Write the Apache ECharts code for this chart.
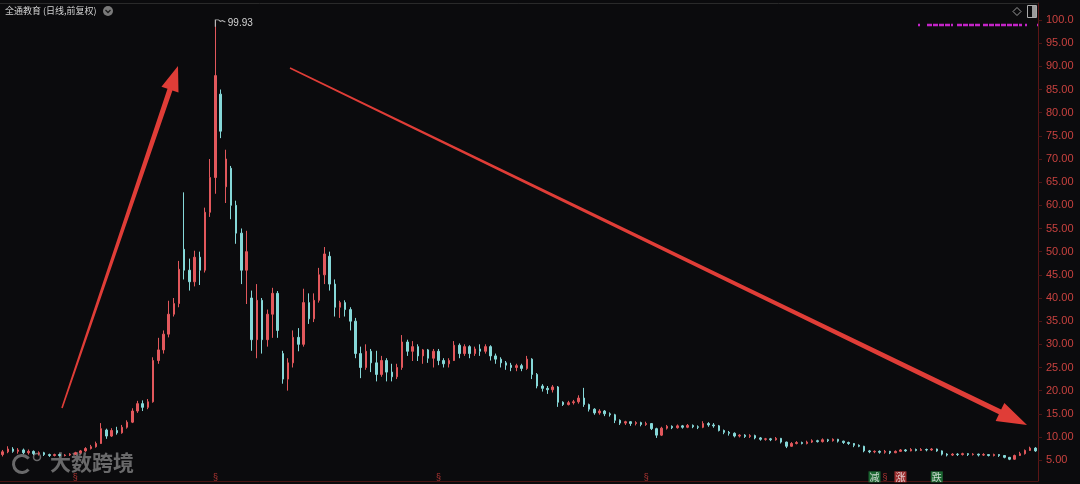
<!DOCTYPE html>
<html><head><meta charset="utf-8">
<script src="https://cdn.jsdelivr.net/npm/echarts@6/dist/echarts.min.js"></script>
<style>html,body{margin:0;padding:0;background:#0b0b0d;}#c{width:1080px;height:484px;}</style>
</head><body><div id="c"></div>
<script>
const opens = [
6.2,6.8,7.4,6.9,7.2,6.6,6.9,6.4,6.6,6.2,
6.0,6.2,6.0,6.1,6.3,6.6,7.0,7.5,7.9,8.6,
11.5,10.2,11.4,10.9,12.1,13.2,15.6,17.2,16.4,17.6,
26.5,28.8,32.2,36.5,38.8,50.5,46.0,43.5,48.8,46.0,
58.5,66.0,84.0,64.0,68.0,60.0,54.0,46.0,40.0,31.0,
39.5,31.0,36.5,41.0,28.0,22.5,26.0,31.5,30.0,39.0,
35.5,39.5,45.0,49.0,43.0,38.0,39.0,37.5,35.0,28.0,
25.0,28.5,26.0,23.5,26.5,24.0,23.0,25.0,30.5,28.5,
29.5,27.5,28.8,27.0,28.5,26.5,25.8,26.5,29.8,28.0,
29.5,28.0,29.0,28.5,29.5,27.5,26.8,26.0,25.5,25.0,
25.4,24.8,26.8,23.5,21.0,20.5,20.2,20.8,17.5,17.0,
17.4,17.6,18.4,17.0,16.0,15.2,15.6,15.0,14.8,13.6,
13.0,13.3,12.9,13.1,12.7,12.9,11.8,10.4,11.9,12.3,
12.0,12.4,12.1,12.5,12.2,12.1,12.9,12.6,12.4,11.4,
11.0,10.8,10.2,10.4,10.1,10.3,9.8,9.5,9.6,9.4,
9.7,8.9,8.0,8.6,8.8,8.6,8.9,9.2,9.0,9.4,
9.2,9.5,9.1,8.8,8.6,8.2,8.0,7.0,6.8,6.9,
6.7,6.9,6.6,6.9,7.2,7.0,7.3,7.1,7.3,7.2,
7.4,7.0,6.3,6.1,6.3,6.2,6.4,6.2,6.3,6.1,
6.2,6.0,6.2,6.0,5.6,5.2,6.0,6.4,7.1,7.6];
const closes = [
6.8,7.4,6.9,7.2,6.6,6.9,6.4,6.6,6.2,6.0,
6.2,6.0,6.1,6.3,6.6,7.0,7.5,7.9,8.6,11.8,
10.2,11.4,10.9,12.1,13.2,15.6,17.2,16.4,17.6,26.5,
28.8,32.2,36.5,38.8,46.2,46.0,43.5,48.8,46.0,58.5,
66.0,88.0,76.0,70.0,60.0,54.0,46.0,50.0,31.0,39.5,
31.0,36.5,41.0,33.0,22.5,26.0,31.5,30.0,39.0,35.5,
39.5,45.0,49.5,43.0,38.0,39.0,37.5,35.0,28.0,25.0,
28.5,26.0,23.5,26.5,24.0,23.0,25.0,30.5,28.5,29.5,
27.5,28.8,27.0,28.5,26.5,25.8,26.5,29.8,28.0,29.5,
28.0,29.0,28.5,29.5,27.5,26.8,26.0,25.5,25.0,25.4,
24.8,26.8,23.5,21.0,20.5,20.2,20.8,17.5,17.0,17.4,
17.6,18.4,17.0,16.0,15.2,15.6,15.0,14.8,13.6,13.0,
13.3,12.9,13.1,12.7,12.9,11.8,10.4,11.9,12.3,12.0,
12.4,12.1,12.5,12.2,12.1,12.9,12.6,12.4,11.4,11.0,
10.8,10.2,10.4,10.1,10.3,9.8,9.5,9.6,9.4,9.7,
8.9,8.0,8.6,8.8,8.6,8.9,9.2,9.0,9.4,9.2,
9.5,9.1,8.8,8.6,8.2,8.0,7.0,6.8,6.9,6.7,
6.9,6.6,6.9,7.2,7.0,7.3,7.1,7.3,7.2,7.4,
7.0,6.3,6.1,6.3,6.2,6.4,6.2,6.3,6.1,6.2,
6.0,6.2,6.0,5.6,5.2,6.0,6.4,7.1,7.6,7.0];
const lows = [
5.8,6.5,6.6,6.4,6.3,6.2,6.1,6.0,5.9,5.7,
5.8,5.8,5.8,5.9,6.1,6.4,6.8,7.3,7.7,8.5,
9.6,10.0,10.5,10.7,11.8,13.0,15.2,15.6,16.0,17.4,
25.8,28.0,31.5,36.0,38.0,44.0,41.6,42.5,42.8,45.5,
57.5,62.5,74.5,60.5,57.0,51.7,43.0,38.7,28.6,27.0,
28.0,29.5,31.4,31.4,21.5,20.0,25.0,28.5,29.5,34.4,
34.8,39.0,43.0,41.6,36.0,35.7,36.0,33.0,27.0,22.7,
24.5,24.0,22.0,23.0,22.0,22.0,22.5,24.5,27.5,26.4,
26.4,25.8,26.0,25.0,25.5,25.0,25.0,26.4,27.0,27.5,
27.0,27.5,27.5,28.0,26.5,25.8,25.0,24.5,24.2,24.2,
24.2,24.5,22.5,20.5,19.8,19.3,19.6,16.5,16.7,16.8,
17.0,17.2,16.5,15.5,14.8,14.8,14.5,14.4,13.0,12.6,
12.6,12.4,12.5,12.3,12.4,11.5,9.8,10.2,11.6,11.7,
11.8,11.8,11.9,11.9,11.7,11.9,12.2,12.0,11.2,10.6,
10.3,9.9,9.9,9.8,9.8,9.5,9.2,9.2,9.1,9.2,
8.6,7.6,7.9,8.4,8.4,8.4,8.7,8.8,8.8,8.9,
9.0,8.8,8.5,8.3,7.8,7.8,6.7,6.5,6.5,6.4,
6.4,6.3,6.5,6.8,6.8,6.9,6.9,7.0,6.9,7.0,
6.8,6.0,5.8,5.9,5.9,6.0,5.9,6.0,5.8,5.9,
5.8,5.8,5.7,5.4,5.0,5.1,5.9,6.2,7.0,6.8];
const highs = [
7.2,8.0,7.8,7.6,7.5,7.3,7.1,6.9,6.8,6.4,
6.4,6.4,6.3,6.5,6.8,7.2,7.8,8.3,9.0,13.0,
11.8,11.9,12.2,12.6,13.6,16.2,17.8,17.9,18.2,27.2,
31.4,33.0,39.4,40.0,48.0,62.8,48.5,50.2,50.0,59.5,
70.0,99.93,85.0,72.0,68.5,61.0,55.0,54.5,41.6,43.0,
40.0,37.5,42.2,41.5,28.6,27.0,33.0,33.5,42.0,41.0,
41.0,46.5,51.0,50.0,44.0,39.4,39.5,38.0,35.7,29.5,
30.0,29.0,28.6,27.5,27.0,25.8,25.8,32.0,31.0,30.7,
30.0,29.0,29.0,29.0,29.0,27.0,27.0,30.7,30.2,30.0,
29.8,29.5,30.0,30.0,29.8,28.0,27.2,26.4,26.0,25.8,
25.8,27.5,27.0,23.8,21.4,21.0,21.2,21.0,17.7,17.8,
18.0,19.0,20.6,17.2,16.2,16.0,15.8,15.3,15.0,13.8,
13.5,13.4,13.4,13.3,13.3,13.0,12.0,12.2,12.6,12.5,
12.7,12.6,12.8,12.7,12.5,13.4,13.2,13.0,12.6,11.6,
11.3,11.0,10.6,10.6,10.6,10.5,10.0,9.8,9.8,10.0,
9.8,9.0,8.9,9.1,9.0,9.2,9.5,9.4,9.7,9.6,
9.7,9.6,9.2,9.0,8.7,8.4,8.1,7.2,7.1,7.1,
7.2,7.0,7.1,7.4,7.4,7.6,7.5,7.6,7.5,7.6,
7.5,7.1,6.5,6.5,6.5,6.6,6.5,6.5,6.4,6.5,
6.3,6.4,6.3,6.1,5.7,6.2,6.8,7.3,7.9,7.8];
const days = opens.map((_, i) => 'D' + (i + 1));
const yTicks = [5,10,15,20,25,30,35,40,45,50,55,60,65,70,75,80,85,90,95,100];
const eventDays = [14, 41, 84, 124, 170];
const signalDays = [168, 173, 180];
const signalText = ['减', '涨', '跌'];
const titleText = '全通教育 (日线,前复权)';

const candleData = opens.map((o, i) => [o, closes[i], lows[i], highs[i]]);
let peakIdx = 0;
highs.forEach((h, i) => { if (h > highs[peakIdx]) peakIdx = i; });

function arrowPts(x1, y1, x2, y2, headLen, headHalf, tailHalf, shaftHalf) {
  const dx = x2 - x1, dy = y2 - y1, L = Math.hypot(dx, dy);
  const ux = dx / L, uy = dy / L, px = -uy, py = ux;
  const bx = x2 - ux * headLen, by = y2 - uy * headLen;
  return [
    [x1 + px * tailHalf, y1 + py * tailHalf],
    [bx + px * shaftHalf, by + py * shaftHalf],
    [bx + px * headHalf, by + py * headHalf],
    [x2, y2],
    [bx - px * headHalf, by - py * headHalf],
    [bx - px * shaftHalf, by - py * shaftHalf],
    [x1 - px * tailHalf, y1 - py * tailHalf]
  ];
}
const arrowColor = 'rgba(236,64,58,0.95)';
const purpleSegs = [[918,920],[927,953],[957,980],[983,1022],[1025,1027],[1037,1039]];

const chart = echarts.init(document.getElementById('c'));
chart.setOption({
  backgroundColor: '#0b0b0d',
  animation: false,
  grid: { left: 0, right: 42, top: 3, bottom: 3 },
  xAxis: [
    { type: 'category', data: days, boundaryGap: true,
      axisLine: { show: true, lineStyle: { color: '#4a1212' } },
      axisTick: { show: false }, axisLabel: { show: false }, splitLine: { show: false } },
    { type: 'category', data: days, position: 'top',
      axisLine: { show: true, lineStyle: { color: '#2a2a2a' } },
      axisTick: { show: false }, axisLabel: { show: false }, splitLine: { show: false } }
  ],
  yAxis: {
    type: 'value', position: 'right', min: 0.5, max: 103.67, scale: true,
    axisLine: { show: true, lineStyle: { color: '#5c1616' } },
    axisTick: { show: true, length: 4, lineStyle: { color: '#4a1414' }, customValues: yTicks },
    axisLabel: { customValues: yTicks, color: '#c8423f', fontSize: 11, margin: 8,
      fontFamily: 'Liberation Sans, Arial, sans-serif',
      formatter: v => v === 100 ? '100.0' : v.toFixed(2) },
    splitLine: { show: false }
  },
  series: [
    { type: 'candlestick', data: candleData, barWidth: 2,
      itemStyle: { color: '#e2585c', color0: '#86d8d8', borderColor: '#e2585c', borderColor0: '#86d8d8', borderWidth: 1 },
      markPoint: {
        symbol: 'path://M0,9 L0,0 L3,0 L5,2 L7,1 L10,3',
        symbolSize: [10, 7], symbolOffset: [5, 3],
        itemStyle: { color: 'rgba(0,0,0,0)', borderColor: '#bbbbbb', borderWidth: 1 },
        label: { show: true, position: [13, -1], color: '#d4d4d4', fontSize: 10,
          fontFamily: 'Liberation Sans, Arial, sans-serif',
          formatter: p => Number(p.value).toFixed(2) },
        data: [{ coord: [peakIdx, highs[peakIdx]], value: highs[peakIdx] }]
      }
    },
    { type: 'scatter', symbol: 'circle', symbolSize: 1, itemStyle: { color: 'rgba(0,0,0,0)' },
      data: eventDays.map(d => [d, 1.2]), silent: true,
      label: { show: true, position: 'inside', formatter: '§', color: '#d8403c', fontSize: 9 } },
    { type: 'scatter', symbol: 'circle', symbolSize: 1, itemStyle: { color: 'rgba(0,0,0,0)' },
      silent: true,
      data: signalDays.map((d, i) => ({
        value: [d, 1.4], name: signalText[i],
        label: { backgroundColor: signalText[i] === '涨' ? '#c23a3a' : '#1f7d3b' } })),
      label: { show: true, position: 'inside', formatter: p => p.name, fontSize: 10,
        color: '#f2f2f2', padding: [1, 1, 0, 1], fontFamily: 'Noto Sans CJK SC' } }
  ],
  graphic: [
    { type: 'text', left: 5, top: 6, style: { text: titleText, fill: '#d2d2d2', font: '9px "Noto Sans CJK SC"' } },
    { type: 'circle', shape: { cx: 108, cy: 11, r: 5 }, style: { fill: '#7a7a7a' } },
    { type: 'polyline', shape: { points: [[105.5, 10], [108, 12.5], [110.5, 10]] }, style: { stroke: '#1a1a1a', lineWidth: 1.3, fill: null } },
    { type: 'polygon', shape: { points: [[1017, 7.5], [1021, 11.5], [1017, 15.5], [1013, 11.5]] }, style: { stroke: '#9a9a9a', fill: null, lineWidth: 1 } },
    { type: 'rect', shape: { x: 1027.5, y: 5.5, width: 9, height: 12 }, style: { stroke: '#aaaaaa', fill: null, lineWidth: 1 } },
    { type: 'rect', shape: { x: 1032, y: 6, width: 4, height: 11 }, style: { fill: '#9a9a9a' } },
    ...purpleSegs.map(s => ({ type: 'line', shape: { x1: s[0], y1: 25, x2: s[1], y2: 25 }, style: { stroke: '#c424c8', lineWidth: 2.5, lineDash: [5, 1] } })),
    { type: 'polygon', z: 100, shape: { points: arrowPts(62, 408, 178, 66, 25, 9, 0.8, 2.6) }, style: { fill: arrowColor } },
    { type: 'polygon', z: 100, shape: { points: arrowPts(290, 68, 1027, 425, 30, 10, 0.7, 2.6) }, style: { fill: arrowColor } },
    { type: 'arc', shape: { cx: 22, cy: 464, r: 8.5, startAngle: 0.7, endAngle: 5.6 }, style: { stroke: 'rgba(200,200,200,0.5)', lineWidth: 3, fill: null } },
    { type: 'circle', shape: { cx: 37, cy: 457, r: 3.5 }, style: { stroke: 'rgba(200,200,200,0.5)', lineWidth: 1.5, fill: null } },
    { type: 'text', left: 50, top: 452, style: { text: '大数跨境', fill: 'rgba(200,200,200,0.5)', font: 'bold 21px "Noto Sans CJK SC"' } }
  ]
});
</script></body></html>
